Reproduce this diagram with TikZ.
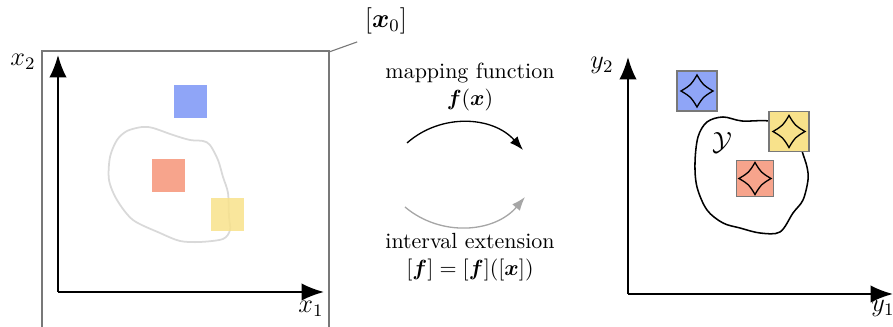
\documentclass[tikz,border=0pt]{standalone}
\usepackage{amsmath}
\usepackage{bm}
\usepackage{tikz}
\usetikzlibrary{arrows.meta, positioning}
\definecolor{setblue}{RGB}{143,165,247}
\definecolor{setred}{RGB}{247,164,140}
\definecolor{setyellow}{RGB}{248,226,139}
\definecolor{framegray}{RGB}{120,120,120}

\begin{document}
\begin{tikzpicture}[
  x=0.016cm, y=-0.016cm,
  axis/.style={-{Latex[length=0.36cm, width=0.28cm]}, line width=0.9pt},
  lbox/.style={rectangle, inner sep=0pt, minimum size=0.53cm},
  rbox/.style={rectangle, draw=framegray, line width=0.5pt, inner sep=0pt, minimum size=0.64cm},
  maparr/.style={-{Latex[length=0.22cm, width=0.16cm]}, line width=0.6pt},
  astroid/.pic={\draw[line width=0.6pt] (0,-16) .. controls (6,-6) .. (16,0) .. controls (6,6) .. (0,16) .. controls (-6,6) .. (-16,0) .. controls (-6,-6) .. (0,-16) -- cycle;}
]
\useasboundingbox (0,0) rectangle (893,327);

% input space
\draw[framegray, line width=0.5pt] (42,335) -- (42,51) -- (329,51) -- (329,335);
\node (x0) at (386,21) {\large $[\bm{x}_0]$};
\draw[framegray, line width=0.5pt] (329,52) -- (x0.south west);

\draw[gray!30, line width=0.8pt] plot[smooth cycle] coordinates {
  (142,127) (153,128) (173,135) (190,140) (203,141) (210,145) (218,160)
  (223,177) (228,193) (229,217) (230,230) (223,239) (200,242) (180,241)
  (160,233) (133,220) (117,200) (109,180) (110,157) (117,140) (127,131)};

\node[lbox, fill=setblue] (xb) at (190.5,101.5) {};
\node[lbox, fill=setred] (xr) at (168.5,175.5) {};
\node[lbox, fill=setyellow, fill opacity=0.85] (xy) at (227.5,214.5) {};

\coordinate (o1) at (58,292);
\draw[axis] (o1) -- (324,292);
\draw[axis] (o1) -- (58,55);
\node (x1) at (311,309) {\large $x_1$};
\node (x2) at (23,62) {\large $x_2$};

% mappings
\node[align=center] (maplbl) at (470,87) {mapping function\\$\bm{f}(\bm{x})$};
\node[align=center] (intlbl) at (470,257) {interval extension\\$[\bm{f}] = [\bm{f}]([\bm{x}])$};
\coordinate (mapS) at (407,143);
\coordinate (mapE) at (523,150);
\coordinate (intS) at (405,207);
\coordinate (intE) at (525,197);
\draw[maparr] (mapS) to[bend left=45] (mapE);
\draw[maparr, gray!70] (intS) to[bend right=45] (intE);

% output space
\draw[line width=0.7pt] plot[smooth cycle, tension=0.55] coordinates {
  (742,121) (769,121) (795,128) (802,151) (807,167) (808,180) (803,200)
  (793,213) (780,232) (760,233) (740,228) (723,223) (707,210) (697,187)
  (695,163) (698,137) (707,122) (723,117)};
\node (ylbl) at (722,143) {\large $\mathcal{Y}$};

\node[rbox, fill=setblue] (yb) at (697,91) {};
\node[rbox, fill=setyellow] (yy) at (789,131.5) {};
\node[rbox, fill=setred, minimum size=0.58cm] (yr) at (755,178.5) {};
\pic at (yb) {astroid};
\pic at (yy) {astroid};
\pic at (yr) {astroid};

\coordinate (o2) at (628,294);
\draw[axis] (o2) -- (893,294);
\draw[axis] (o2) -- (628,57);
\node (y1) at (883,308) {\large $y_1$};
\node (y2) at (602,65) {\large $y_2$};
\end{tikzpicture}
\end{document}
